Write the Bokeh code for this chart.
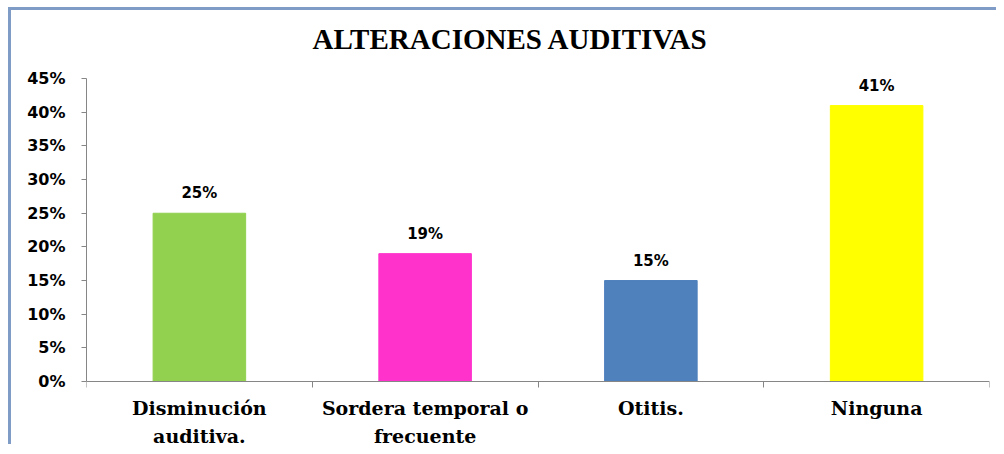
from bokeh.plotting import figure
from bokeh.models import ColumnDataSource, FixedTicker, Range1d, LabelSet
from bokeh.core.properties import value
from bokeh.embed import file_html
from bokeh.resources import INLINE

categories = ["Disminución\nauditiva.", "Sordera temporal o\nfrecuente", "Otitis.", "Ninguna"]
values = [25, 19, 15, 41]
colors = ["#92d050", "#ff33cc", "#4f81bd", "#ffff00"]
y_ticks = [0, 5, 10, 15, 20, 25, 30, 35, 40, 45]

xs = [i + 0.5 for i in range(len(categories))]
src = ColumnDataSource(dict(x=xs, top=values, color=colors,
                            label=[f"{v}%" for v in values]))
cat_src = ColumnDataSource(dict(x=xs, y=[0] * len(categories), text=categories))

p = figure(frame_width=903, frame_height=380, output_backend="svg", toolbar_location=None,
           x_range=Range1d(0, len(categories)), y_range=Range1d(-9.36, 47.1),
           min_border_left=75, min_border_right=7, min_border_top=54, min_border_bottom=0)
p.styles = {"margin-left": "8px", "margin-top": "7px",
            "border-left": "3px solid #7f9cc6", "border-top": "3px solid #7f9cc6"}

p.title.text = "ALTERACIONES AUDITIVAS"
p.title.align = "left"
p.title.offset = 226
p.title.text_font = "Liberation Serif"
p.title.text_font_style = "bold"
p.title.text_font_size = "29px"
p.title.text_color = "#000000"
p.title.standoff = 20

p.vbar(x="x", top="top", width=0.41, color="color", source=src)
p.add_layout(LabelSet(x="x", y="top", text="label", source=src, y_offset=11,
                      text_align="center", text_font=value("DejaVu Sans"), text_font_style="bold",
                      text_font_size="15px", text_color="#000000"))

p.text(x="x", y="y", text="text", source=cat_src, y_offset=15, text_align="center",
       text_baseline="top", text_font=value("DejaVu Serif"), text_font_style="bold",
       text_font_size="19px", text_line_height=1.3, text_color="#000000")

p.xgrid.visible = False
p.ygrid.visible = False
p.outline_line_color = None

p.yaxis.bounds = (0, 45)
p.yaxis.ticker = FixedTicker(ticks=y_ticks)
p.yaxis.major_label_overrides = {t: f"{t}%" for t in y_ticks}
p.yaxis.major_label_text_font = "DejaVu Sans"
p.yaxis.major_label_text_font_style = "bold"
p.yaxis.major_label_text_font_size = "16px"
p.yaxis.major_label_text_color = "#000000"
p.yaxis.major_tick_out = 5
p.yaxis.major_tick_in = 0
p.yaxis.minor_tick_line_color = None
p.yaxis.axis_line_color = "#868686"
p.yaxis.major_tick_line_color = "#868686"
p.yaxis.major_label_standoff = 16

p.xaxis.fixed_location = 0
p.xaxis.ticker = FixedTicker(ticks=xs, minor_ticks=list(range(len(categories) + 1)))
p.xaxis.major_label_text_alpha = 0
p.xaxis.major_label_text_font_size = "1px"
p.xaxis.major_tick_out = 0
p.xaxis.major_tick_in = 0
p.xaxis.minor_tick_out = 6
p.xaxis.minor_tick_in = 0
p.xaxis.minor_tick_line_color = "#868686"
p.xaxis.axis_line_color = "#868686"

open("out.html", "w").write(file_html(p, INLINE))
